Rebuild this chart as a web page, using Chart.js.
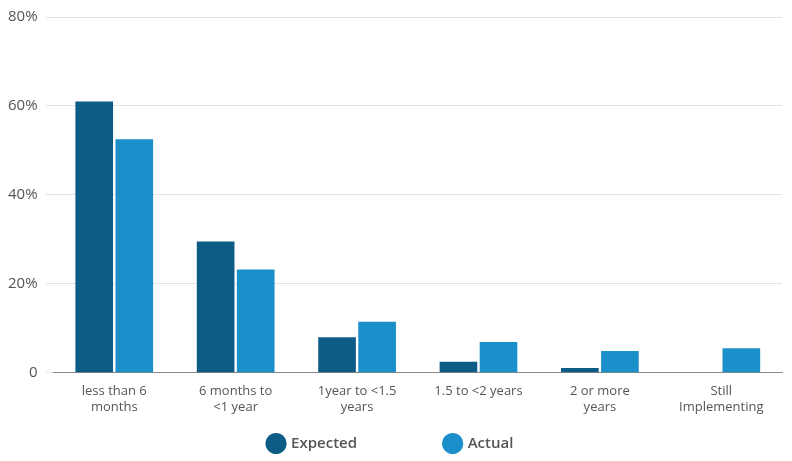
<!DOCTYPE html>
<html><head><meta charset="utf-8">
<script src="https://cdn.jsdelivr.net/npm/chart.js@4/dist/chart.umd.min.js"></script>
<style>html,body{margin:0;padding:0;background:#fff}#w{width:792px;height:461px}</style>
</head><body><div id="w"><canvas id="c"></canvas></div>
<script>
const categories = [["less than 6","months"],["6 months to","<1 year"],["1year to <1.5","years"],["1.5 to <2 years"],["2 or more","years"],["Still","Implementing"]];
const expected = [61, 29.5, 8, 2.5, 1.1, 0];
const actual = [52.5, 23.2, 11.5, 6.9, 4.9, 5.5];
const yTicks = [0, 20, 40, 60, 80];
new Chart(document.getElementById('c'), {
  type: 'bar',
  data: { labels: categories, datasets: [
    { label: 'Expected', data: expected, backgroundColor: '#0d5c86' },
    { label: 'Actual', data: actual, backgroundColor: '#1a8fc9' }
  ]},
  options: {
    responsive: true, maintainAspectRatio: false, animation: false,
    layout: { padding: { top: 8, right: 10, left: 0, bottom: 0 } },
    datasets: { bar: { categoryPercentage: 0.66, barPercentage: 0.94 } },
    plugins: {
      tooltip: { enabled: false },
      legend: { position: 'bottom', labels: { usePointStyle: true, pointStyle: 'circle', boxWidth: 16, boxHeight: 16, padding: 18, color: '#555', font: { family: 'Open Sans', size: 15, weight: '600' },
        generateLabels: ch => Chart.defaults.plugins.legend.labels.generateLabels(ch).map((l, i) => (l.text = i === 0 ? l.text + '                  ' : l.text, l)) } }
    },
    scales: {
      x: { grid: { display: false }, border: { color: '#888' },
        afterBuildTicks: s => { s.min = 0.115; s.max = 4.785; },
        ticks: { color: '#555', font: { family: 'Open Sans', size: 13 } } },
      y: { min: 0, max: 80, afterBuildTicks: a => { a.ticks = yTicks.map(v => ({ value: v })); },
        grid: { color: '#e3e3e3' }, border: { display: false },
        ticks: { color: '#555', padding: 8, font: { family: 'Open Sans', size: 15 }, callback: v => v === 0 ? '0' : v + '%' } }
    }
  }
});
</script></body></html>
